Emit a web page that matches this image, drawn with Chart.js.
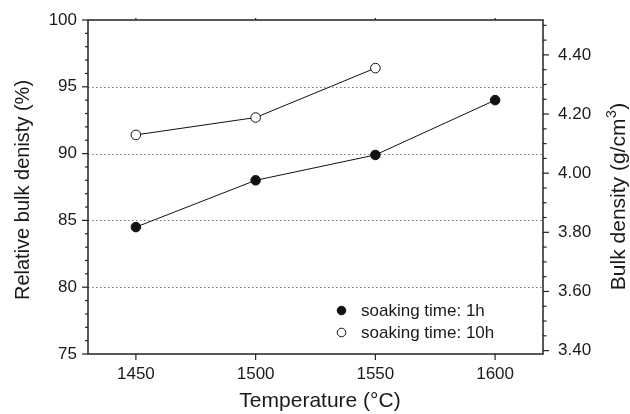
<!DOCTYPE html>
<html><head><meta charset="utf-8">
<script src="https://cdn.jsdelivr.net/npm/chart.js@4.4.0/dist/chart.umd.min.js"></script>
<style>html,body{margin:0;padding:0;background:#fff;} #wrap{width:630px;height:414px;position:relative;}</style>
</head><body><div id="wrap"><canvas id="c"></canvas></div>
<script>
const temperatures = [1450, 1500, 1550, 1600];
const temperatures10h = [1450, 1500, 1550];
const density1h = [84.5, 88.0, 89.9, 94.0];
const density10h = [91.4, 92.7, 96.4];
const xTickValues = [1450, 1500, 1550, 1600];
const leftTickValues = [75, 80, 85, 90, 95, 100];
const rightTickValues = [3.40, 3.60, 3.80, 4.00, 4.20, 4.40];
const gridValues = [80, 85, 90, 95];
const seriesLabels = ['soaking time: 1h', 'soaking time: 10h'];
const theoreticalDensity = 4.518;
const xRange = [1430, 1620];
const leftRange = [75, 100];

const FONT = '"Liberation Sans", Arial, Helvetica, sans-serif';
const TEXT = '#1a1a1a';

const decor = {
  id: 'decor',
  beforeDatasetsDraw(chart) {
    const {ctx, chartArea: a, scales: {y}} = chart;
    ctx.save();
    ctx.strokeStyle = '#777'; ctx.lineWidth = 1; ctx.setLineDash([1.5, 2.5]);
    gridValues.forEach(v => {
      const py = Math.round(y.getPixelForValue(v)) + 0.5;
      ctx.beginPath(); ctx.moveTo(a.left, py); ctx.lineTo(a.right, py); ctx.stroke();
    });
    ctx.restore();
  },
  afterDraw(chart) {
    const {ctx, chartArea: a, scales: {x, y, y2}} = chart;
    ctx.save();
    ctx.strokeStyle = '#222'; ctx.lineWidth = 1.5;
    ctx.strokeRect(a.left, a.top, a.right - a.left, a.bottom - a.top);
    ctx.lineWidth = 1.2;
    const seg = (x1, y1, x2, y2) => { ctx.beginPath(); ctx.moveTo(x1, y1); ctx.lineTo(x2, y2); ctx.stroke(); };
    for (let v = leftRange[0]; v <= leftRange[1]; v += 1) {
      const py = y.getPixelForValue(v);
      const len = (v % 5 === 0) ? 6 : 3;
      seg(a.left - len, py, a.left, py);
    }
    for (let k = 0; ; k++) {
      const v = rightTickValues[0] + 0.05 * k;
      if (v > theoreticalDensity + 1e-9) break;
      const py = y2.getPixelForValue(v);
      const len = (k % 4 === 0) ? 6 : 3.5;
      seg(a.right, py, a.right + len, py);
    }
    xTickValues.forEach(v => {
      const px = x.getPixelForValue(v);
      seg(px, a.bottom, px, a.bottom + 6);
      seg(px, a.top, px, a.top - 2);
    });
    // titles
    ctx.fillStyle = TEXT;
    ctx.font = '21px ' + FONT;
    ctx.textAlign = 'center'; ctx.textBaseline = 'alphabetic';
    ctx.fillText('Temperature (°C)', 320, 407);
    ctx.save();
    ctx.translate(28.5, 190); ctx.rotate(-Math.PI / 2);
    ctx.font = '20px ' + FONT;
    ctx.fillText('Relative bulk denisty (%)', 0, 0);
    ctx.restore();
    ctx.save();
    ctx.translate(625, 197); ctx.rotate(-Math.PI / 2);
    const main = 'Bulk density (g/cm', sup = '3', close = ')';
    ctx.font = '21px ' + FONT; const w1 = ctx.measureText(main).width; const w3 = ctx.measureText(close).width;
    ctx.font = '14px ' + FONT; const w2 = ctx.measureText(sup).width;
    const total = w1 + w2 + w3;
    ctx.textAlign = 'left';
    let cx = -total / 2;
    ctx.font = '21px ' + FONT; ctx.fillText(main, cx, 0); cx += w1;
    ctx.font = '14px ' + FONT; ctx.fillText(sup, cx + 0.5, -9); cx += w2 + 1;
    ctx.font = '21px ' + FONT; ctx.fillText(close, cx, 0);
    ctx.restore();
    // legend
    const ds = chart.data.datasets;
    const rows = [310.5, 332.5];
    ds.forEach((d, i) => {
      ctx.beginPath(); ctx.arc(341.5, rows[i], 4.3, 0, Math.PI * 2);
      ctx.fillStyle = d.pointBackgroundColor; ctx.fill();
      ctx.lineWidth = 1; ctx.strokeStyle = d.pointBorderColor; ctx.stroke();
      ctx.fillStyle = TEXT; ctx.font = '17px ' + FONT;
      ctx.textAlign = 'left'; ctx.textBaseline = 'middle';
      ctx.fillText(d.label, 361, rows[i] + 1);
    });
    ctx.restore();
  }
};

const tickFont = {family: FONT, size: 17};
const fixV = w => s => { s.width = w; s.paddingTop = 0; s.paddingBottom = 0; };

new Chart(document.getElementById('c'), {
  type: 'line',
  data: {
    datasets: [
      {
        label: seriesLabels[0],
        data: temperatures.map((t, i) => ({x: t, y: density1h[i]})),
        borderColor: '#111', borderWidth: 1,
        pointBackgroundColor: '#111', pointBorderColor: '#111', pointBorderWidth: 1,
        pointRadius: 4.8, fill: false, tension: 0, yAxisID: 'y'
      },
      {
        label: seriesLabels[1],
        data: temperatures10h.map((t, i) => ({x: t, y: density10h[i]})),
        borderColor: '#111', borderWidth: 1,
        pointBackgroundColor: '#fff', pointBorderColor: '#111', pointBorderWidth: 1,
        pointRadius: 4.8, fill: false, tension: 0, yAxisID: 'y'
      }
    ]
  },
  options: {
    responsive: true, maintainAspectRatio: false, animation: false,
    layout: {padding: {top: 20, left: 0, right: 0, bottom: 0}},
    plugins: {legend: {display: false}, tooltip: {enabled: false}},
    scales: {
      x: {
        type: 'linear', position: 'bottom', min: xRange[0], max: xRange[1],
        afterBuildTicks: s => { s.ticks = xTickValues.map(v => ({value: v})); },
        afterFit: s => { s.height = 60; s.paddingLeft = 0; s.paddingRight = 0; },
        grid: {display: false, drawTicks: false}, border: {display: false},
        ticks: {font: tickFont, color: TEXT, padding: 10, maxRotation: 0, autoSkip: false, callback: v => String(v)}
      },
      y: {
        position: 'left', min: leftRange[0], max: leftRange[1],
        afterBuildTicks: s => { s.ticks = leftTickValues.map(v => ({value: v})); },
        afterFit: fixV(88),
        grid: {display: false, drawTicks: false}, border: {display: false},
        ticks: {font: tickFont, color: TEXT, padding: 11, autoSkip: false, callback: v => String(v)}
      },
      y2: {
        position: 'right', min: leftRange[0] / 100 * theoreticalDensity, max: leftRange[1] / 100 * theoreticalDensity,
        afterBuildTicks: s => { s.ticks = rightTickValues.map(v => ({value: v})); },
        afterFit: fixV(87),
        grid: {display: false, drawTicks: false}, border: {display: false},
        ticks: {font: tickFont, color: TEXT, padding: 15, autoSkip: false, callback: v => Number(v).toFixed(2)}
      }
    }
  },
  plugins: [decor]
});
</script></body></html>
